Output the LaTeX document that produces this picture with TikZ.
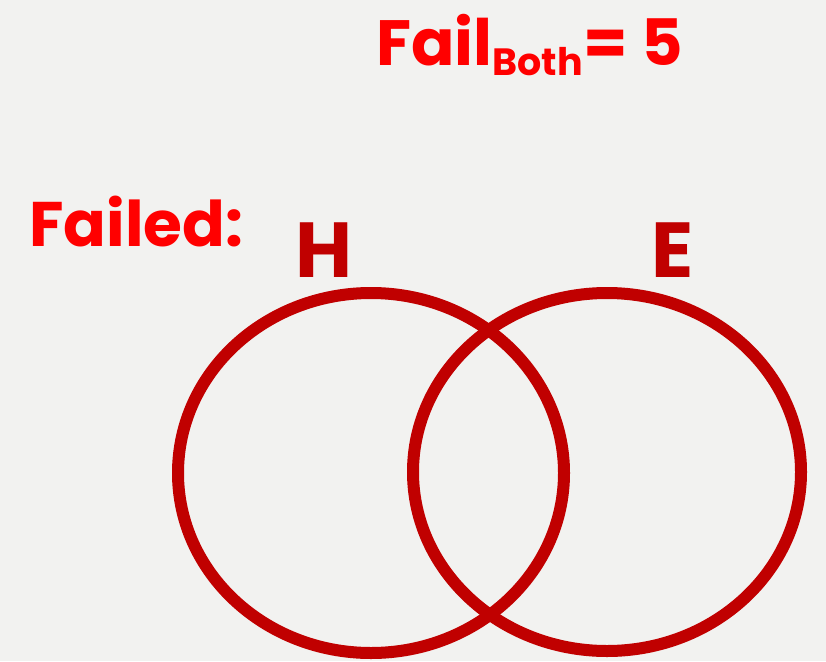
\documentclass[tikz,border=0pt]{standalone}
\usepackage{fontspec}
\setmainfont{Poppins}
\definecolor{bg}{HTML}{F2F2F0}
\definecolor{darkred}{HTML}{C00000}
\definecolor{brightred}{HTML}{FF0000}
\tikzset{
  ring/.style={draw=darkred, line width=12pt},
  lbl/.style={inner sep=0pt, anchor=base west, font=\bfseries}
}
\begin{document}
\begin{tikzpicture}[x=1pt,y=-1pt]
\fill[bg] (0,0) rectangle (826,661);
\useasboundingbox (0,0) rectangle (826,661);
\draw[ring] (371,473) ellipse [x radius=193, y radius=180];
\draw[ring] (607,472) ellipse [x radius=194, y radius=179];
\node[lbl, text=brightred, font=\bfseries\fontsize{63}{68}\selectfont] (failed) at (29,246) {Failed:};
\node[lbl, text=darkred, font=\bfseries\fontsize{78}{82}\selectfont] (h) at (295,277) {H};
\node[lbl, text=darkred, font=\bfseries\fontsize{78}{82}\selectfont] (e) at (651,277) {E};
\node[lbl, text=brightred, font=\bfseries\fontsize{64}{68}\selectfont] (fail) at (376,65) {Fail\raisebox{-10pt}{\fontsize{38}{40}\selectfont Both}\hspace{1pt}= 5};
\end{tikzpicture}
\end{document}
